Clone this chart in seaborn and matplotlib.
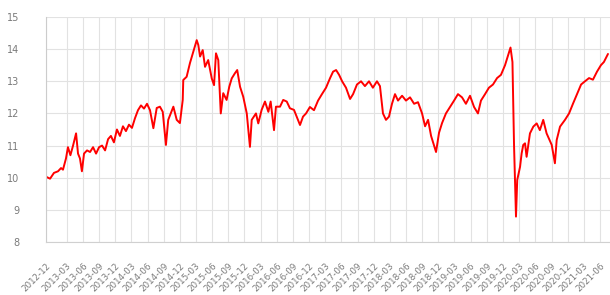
#!/usr/bin/env python3

import matplotlib
matplotlib.use('Agg')
import matplotlib.pyplot as plt
import pandas as pd
import seaborn as sns

# values
dates = [
    '2012-11-04', '2012-11-27', '2012-12-19', '2013-01-11', '2013-01-28', '2013-02-08',
    '2013-02-25', '2013-03-08', '2013-03-22', '2013-04-06', '2013-04-23', '2013-05-04',
    '2013-05-15', '2013-05-26', '2013-06-07', '2013-06-24', '2013-07-11', '2013-07-28',
    '2013-08-14', '2013-08-31', '2013-09-17', '2013-10-04', '2013-10-21', '2013-11-06',
    '2013-11-23', '2013-12-10', '2013-12-27', '2014-01-13', '2014-01-30', '2014-02-16',
    '2014-03-05', '2014-03-22', '2014-04-08', '2014-04-25', '2014-05-12', '2014-05-29',
    '2014-06-15', '2014-07-04', '2014-07-23', '2014-08-10', '2014-08-26', '2014-09-13',
    '2014-09-26', '2014-10-25', '2014-11-13', '2014-12-01', '2014-12-17', '2014-12-20',
    '2015-01-08', '2015-01-27', '2015-02-15', '2015-03-06', '2015-03-15', '2015-03-25',
    '2015-04-09', '2015-04-22', '2015-05-10', '2015-05-30', '2015-06-12', '2015-06-23',
    '2015-07-06', '2015-07-20', '2015-08-03', '2015-08-22', '2015-09-06', '2015-09-20',
    '2015-10-08', '2015-10-21', '2015-11-06', '2015-11-24', '2015-12-14', '2016-01-01',
    '2016-01-11', '2016-02-04', '2016-02-17', '2016-03-07', '2016-03-26', '2016-04-14',
    '2016-04-27', '2016-05-16', '2016-05-27', '2016-06-19', '2016-07-07', '2016-07-27',
    '2016-08-14', '2016-09-06', '2016-09-21', '2016-10-10', '2016-10-27', '2016-11-13',
    '2016-12-05', '2016-12-28', '2017-01-20', '2017-02-11', '2017-03-06', '2017-03-29',
    '2017-04-15', '2017-05-02', '2017-05-19', '2017-06-05', '2017-06-27', '2017-07-20',
    '2017-08-06', '2017-08-28', '2017-09-20', '2017-10-12', '2017-11-04', '2017-11-26',
    '2017-12-19', '2018-01-05', '2018-01-22', '2018-02-08', '2018-02-25', '2018-03-14',
    '2018-03-31', '2018-04-17', '2018-05-10', '2018-06-01', '2018-06-24', '2018-07-17',
    '2018-08-08', '2018-08-31', '2018-09-17', '2018-10-04', '2018-10-21', '2018-11-07',
    '2018-11-18', '2018-12-05', '2018-12-22', '2019-01-13', '2019-02-05', '2019-02-28',
    '2019-03-22', '2019-04-14', '2019-05-06', '2019-05-29', '2019-06-21', '2019-07-13',
    '2019-07-30', '2019-08-22', '2019-09-13', '2019-10-06', '2019-10-29', '2019-11-20',
    '2019-12-13', '2019-12-30', '2020-01-13', '2020-01-24', '2020-02-02', '2020-02-13',
    '2020-02-20', '2020-03-07', '2020-03-16', '2020-03-25', '2020-04-04', '2020-04-13',
    '2020-05-02', '2020-05-21', '2020-06-09', '2020-06-27', '2020-07-16', '2020-08-04',
    '2020-09-02', '2020-09-20', '2020-09-30', '2020-10-19', '2020-11-16', '2020-12-09',
    '2020-12-31', '2021-01-23', '2021-02-15', '2021-03-09', '2021-04-01', '2021-04-23',
    '2021-05-16', '2021-06-07', '2021-06-24', '2021-07-17',
]
values = [
    10.03, 9.97, 10.15, 10.2, 10.3, 10.25,
    10.6, 10.95, 10.7, 11.0, 11.38, 10.75,
    10.6, 10.2, 10.75, 10.85, 10.8, 10.95,
    10.75, 10.95, 11.0, 10.85, 11.2, 11.3,
    11.1, 11.5, 11.3, 11.6, 11.45, 11.65,
    11.55, 11.85, 12.1, 12.25, 12.15, 12.3,
    12.1, 11.54, 12.17, 12.21, 12.05, 11.02,
    11.8, 12.21, 11.8, 11.7, 12.42, 13.04,
    13.14, 13.57, 13.92, 14.28, 14.13, 13.77,
    13.97, 13.45, 13.66, 13.09, 12.88, 13.87,
    13.66, 12.0, 12.63, 12.42, 12.83, 13.09,
    13.25, 13.35, 12.83, 12.52, 12.0, 10.96,
    11.8, 12.0, 11.69, 12.11, 12.37, 12.05,
    12.37, 11.48, 12.21, 12.21, 12.42, 12.37,
    12.16, 12.11, 11.9, 11.64, 11.9, 12.0,
    12.2, 12.1, 12.4, 12.6, 12.8, 13.1,
    13.3, 13.35, 13.2, 13.0, 12.8, 12.45,
    12.6, 12.9, 13.0, 12.85, 13.0, 12.8,
    13.0, 12.85, 12.0, 11.8, 11.9, 12.3,
    12.6, 12.4, 12.55, 12.4, 12.5, 12.3,
    12.35, 12.0, 11.6, 11.8, 11.3, 11.0,
    10.8, 11.4, 11.7, 12.0, 12.2, 12.4,
    12.6, 12.5, 12.3, 12.55, 12.2, 12.0,
    12.4, 12.6, 12.8, 12.9, 13.1, 13.2,
    13.5, 13.8, 14.05, 13.6, 11.0, 8.79,
    9.93, 10.34, 10.76, 11.02, 11.07, 10.65,
    11.38, 11.59, 11.69, 11.48, 11.8, 11.38,
    11.02, 10.45, 11.17, 11.59, 11.8, 12.0,
    12.3, 12.6, 12.9, 13.0, 13.1, 13.05,
    13.3, 13.5, 13.6, 13.85,
]
x_start = '2012-11-04'
x_end = '2021-09-23'
first_label = '2012-12'
quarter_ticks = pd.date_range('2013-03-01', '2021-06-01', freq='QS-MAR')
y_ticks = [8, 9, 10, 11, 12, 13, 14, 15]

df = pd.DataFrame({'date': pd.to_datetime(dates), 'value': values})

sns.set_style('white')

fig = plt.figure(figsize=(6.1, 2.95), dpi=100)
# right edge of the plot runs past the picture, like in the reference
ax = fig.add_axes([46 / 610, 53 / 295, 574 / 610, 225 / 295])

sns.lineplot(data=df, x='date', y='value', ax=ax, color='#ff0000', linewidth=1.4)

ax.set_xlim(pd.Timestamp(x_start), pd.Timestamp(x_end))
ax.set_ylim(8, 15)

xt = [pd.Timestamp(x_start)] + list(quarter_ticks)
ax.set_xticks(xt)
ax.set_xticklabels([first_label] + [d.strftime('%Y-%m') for d in quarter_ticks],
                   rotation=45, ha='right', va='top', rotation_mode='anchor',
                   fontsize=6.3, color='#7a7a7a')
ax.set_yticks(y_ticks)
ax.set_yticklabels([str(v) for v in y_ticks], fontsize=7, color='#7a7a7a')

ax.grid(True, color='#e2e2e2', linewidth=0.8)
ax.tick_params(axis='x', length=12, width=0.8, color='#e2e2e2', pad=2)
ax.tick_params(axis='y', length=0, pad=19)
for s in ['top', 'right']:
    ax.spines[s].set_visible(False)
ax.spines['left'].set_color('#cccccc')
ax.spines['bottom'].set_color('#d0d0d0')
ax.spines['left'].set_linewidth(0.8)
ax.spines['bottom'].set_linewidth(0.8)
ax.set_xlabel('')
ax.set_ylabel('')

fig.savefig('out.png', dpi=100)
